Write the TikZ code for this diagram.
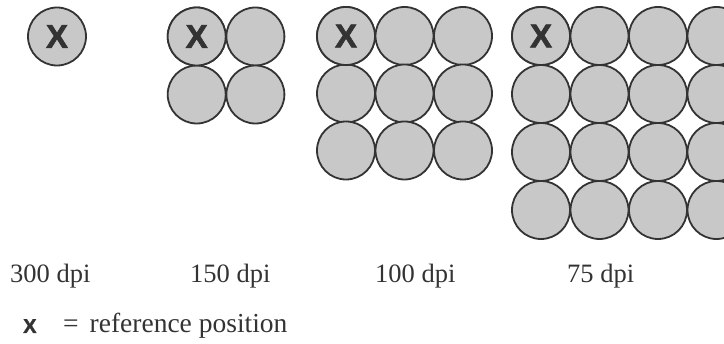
\documentclass[tikz,border=0pt]{standalone}
\usepackage{fontspec}
\setmainfont{Liberation Serif}
\newfontfamily\xfont[FakeBold=2]{Liberation Sans Bold}
\definecolor{cellfill}{HTML}{C8C8C8}
\definecolor{ink}{HTML}{333333}
\begin{document}
\begin{tikzpicture}[x=1pt,y=-1pt,
  cell/.style={circle,draw=ink,fill=cellfill,line width=1.8pt,minimum size=58pt,inner sep=0pt,
    font=\xfont\fontsize{33}{33}\selectfont,text=ink},
  lbl/.style={anchor=base west,inner sep=0pt,text=ink,font=\fontsize{26.5}{30}\selectfont}]
\useasboundingbox (0,0) rectangle (724,344);
\clip (0,0) rectangle (724,344);
% 300 dpi
\node[cell] (a11) at (57,36.5) {X};
% 150 dpi
\foreach \c/\x in {1/196.7,2/255.4}{
  \foreach \r/\y in {1/36.5,2/94.5}{
    \node[cell] (b\r\c) at (\x,\y) {};
  }}
\node[cell] at (b11) {X};
% 100 dpi
\foreach \c/\x in {1/346,2/404.5,3/463}{
  \foreach \r/\y in {1/36,2/93.5,3/150.5}{
    \node[cell] (c\r\c) at (\x,\y) {};
  }}
\node[cell] at (c11) {X};
% 75 dpi
\foreach \c/\x in {1/541,2/599.5,3/658,4/716.5}{
  \foreach \r/\y in {1/36,2/94,3/152,4/210}{
    \node[cell] (d\r\c) at (\x,\y) {};
  }}
\node[cell] at (d11) {X};
% labels
\node[lbl] (l300) at (10,283) {300 dpi};
\node[lbl] (l150) at (190,283) {150 dpi};
\node[lbl] (l100) at (375,283) {100 dpi};
\node[lbl] (l75) at (567,283) {75 dpi};
% legend
\node[anchor=base west,inner sep=0pt,text=ink,font=\xfont\fontsize{20}{20}\selectfont] (lx) at (23,333) {X};
\node[lbl,font=\fontsize{27.5}{30}\selectfont] (leg) at (63,333) {=\hskip0.4em reference position};
\end{tikzpicture}
\end{document}
